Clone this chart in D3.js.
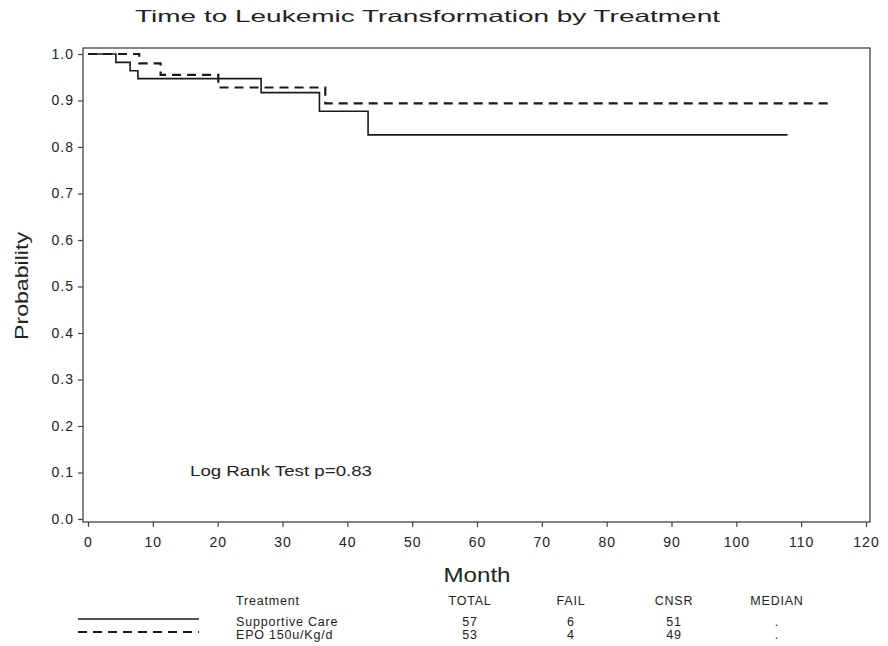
<!DOCTYPE html>
<html>
<head>
<meta charset="utf-8">
<script src="https://cdn.jsdelivr.net/npm/d3@7"></script>
<style>
	body { margin: 0; background: white; }
</style>
</head>
<body>
<div id="viz"></div>
<script>

// Kaplan-Meier steps
var careMonths = [0, 4.3, 6.5, 7.7, 26.7, 35.7, 43.2, 107.9],
	careSurvival = [1.0, 0.982, 0.964, 0.947, 0.917, 0.877, 0.826, 0.826];
var epoMonths = [0, 7.9, 11.2, 20.1, 36.6, 114.8],
	epoSurvival = [1.0, 0.980, 0.955, 0.928, 0.894, 0.894];

var xTicks = [0, 10, 20, 30, 40, 50, 60, 70, 80, 90, 100, 110, 120],
	yTicks = [0, 0.1, 0.2, 0.3, 0.4, 0.5, 0.6, 0.7, 0.8, 0.9, 1.0];

// Summary table
var tableHeader = ["Treatment", "TOTAL", "FAIL", "CNSR", "MEDIAN"],
	treatments = ["Supportive Care", "EPO 150u/Kg/d"],
	totals = ["57", "53"],
	fails = ["6", "4"],
	censored = ["51", "49"],
	medians = [".", "."];

var titleText = "Time to Leukemic Transformation by Treatment",
	logRankText = "Log Rank Test p=0.83";

var width = 888,
	height = 646,
	font = "'Liberation Sans', Arial, Helvetica, sans-serif",
	ink = "#222";

// Plot frame
var frame = {left: 83, top: 48, right: 870, bottom: 522};

var x = d3.scaleLinear([0, 120], [88, 866]),
	y = d3.scaleLinear([0, 1], [519, 54]);

var svg = d3.select("#viz")
	.append("svg")
	.attr("width", width)
	.attr("height", height)
	.style("background-color", "white")
	.style("font-family", font);

// Title
svg.append("text")
	.attr("x", 135)
	.attr("y", 22)
	.attr("textLength", 585)
	.attr("lengthAdjust", "spacingAndGlyphs")
	.style("font-size", "16.5px")
	.style("fill", ink)
	.text(titleText);

svg.append("rect")
	.attr("x", frame.left)
	.attr("y", frame.top)
	.attr("width", frame.right - frame.left)
	.attr("height", frame.bottom - frame.top)
	.style("fill", "none")
	.style("stroke", "#444")
	.style("stroke-width", 1.3);

// Axes
var yAxis = svg.append("g")
	.attr("transform", `translate(${frame.left}, 0)`)
	.call(d3.axisLeft(y).tickValues(yTicks).tickSize(5).tickPadding(4).tickFormat(d3.format(".1f")));

var xAxis = svg.append("g")
	.attr("transform", `translate(0, ${frame.bottom})`)
	.call(d3.axisBottom(x).tickValues(xTicks).tickSize(5).tickPadding(10));

[xAxis, yAxis].forEach(g => {
	g.select(".domain").remove();
	g.selectAll("line").style("stroke", "#444").style("stroke-width", 1.2);
	g.selectAll("text")
		.style("font-family", font)
		.style("font-size", "14px")
		.style("letter-spacing", "1px")
		.style("fill", ink);
});

// Axis labels
svg.append("text")
	.attr("transform", "translate(28, 286) rotate(-90)")
	.attr("text-anchor", "middle")
	.attr("textLength", 108)
	.attr("lengthAdjust", "spacingAndGlyphs")
	.style("font-size", "18px")
	.style("fill", ink)
	.text("Probability");

svg.append("text")
	.attr("x", 477)
	.attr("y", 582)
	.attr("text-anchor", "middle")
	.attr("textLength", 67)
	.attr("lengthAdjust", "spacingAndGlyphs")
	.style("font-size", "20px")
	.style("fill", ink)
	.text("Month");

// Survival curves
var line = d3.line()
	.x(d => x(d[0]))
	.y(d => y(d[1]))
	.curve(d3.curveStepAfter);

var curves = [
	{months: careMonths, survival: careSurvival, dash: null, width: 1.6},
	{months: epoMonths, survival: epoSurvival, dash: "9, 6", width: 2.2}
];

svg.selectAll(".curve")
	.data(curves)
	.enter()
	.append("path")
	.attr("class", "curve")
	.attr("d", d => line(d3.zip(d.months, d.survival)))
	.style("fill", "none")
	.style("stroke", "#1a1a1a")
	.style("stroke-width", d => d.width)
	.style("stroke-dasharray", d => d.dash);

svg.append("text")
	.attr("x", 190)
	.attr("y", 476)
	.attr("textLength", 182)
	.attr("lengthAdjust", "spacingAndGlyphs")
	.style("font-size", "14px")
	.style("fill", ink)
	.text(logRankText);

// Summary table under the chart
var columnX = [236, 470, 571, 674, 777],
	headerY = 605,
	rowY = [626, 639];

svg.selectAll(".table-header")
	.data(tableHeader)
	.enter()
	.append("text")
	.attr("class", "table-header")
	.attr("x", (d, i) => columnX[i])
	.attr("y", headerY)
	.attr("text-anchor", (d, i) => i == 0 ? "start" : "middle")
	.text(d => d);

treatments.forEach((name, r) => {
	var cells = [name, totals[r], fails[r], censored[r], medians[r]];
	svg.selectAll(".row-" + r)
		.data(cells)
		.enter()
		.append("text")
		.attr("class", "table-cell row-" + r)
		.attr("x", (d, i) => columnX[i])
		.attr("y", rowY[r])
		.attr("text-anchor", (d, i) => i == 0 ? "start" : "middle")
		.text(d => d);

	svg.append("line")
		.attr("x1", 78)
		.attr("x2", 199)
		.attr("y1", rowY[r] - 7)
		.attr("y2", rowY[r] - 7)
		.style("stroke", "#1a1a1a")
		.style("stroke-width", curves[r].width)
		.style("stroke-dasharray", curves[r].dash);
});

svg.selectAll(".table-header, .table-cell")
	.style("font-size", "12.5px")
	.style("letter-spacing", "0.8px")
	.style("fill", ink);

</script>
</body>
</html>
